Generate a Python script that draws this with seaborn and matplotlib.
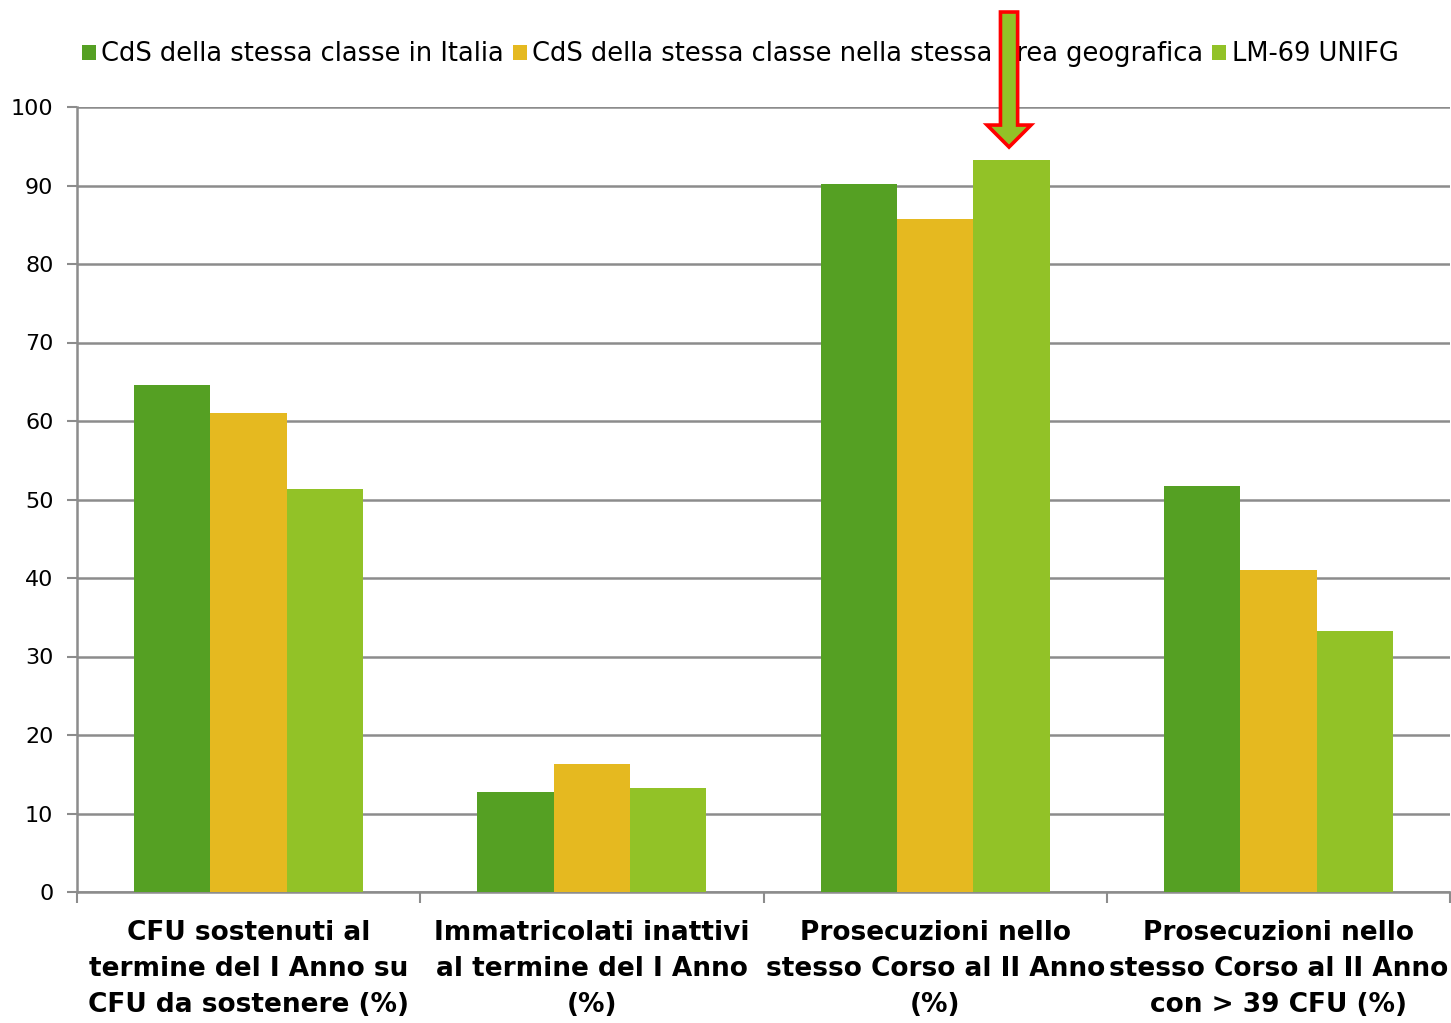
import matplotlib
matplotlib.use("Agg")
import matplotlib.pyplot as plt
from matplotlib.patches import FancyArrow
import seaborn as sns
import pandas as pd

categories = [
    "CFU sostenuti al\ntermine del I Anno su\nCFU da sostenere (%)",
    "Immatricolati inattivi\nal termine del I Anno\n(%)",
    "Prosecuzioni nello\nstesso Corso al II Anno\n(%)",
    "Prosecuzioni nello\nstesso Corso al II Anno\ncon > 39 CFU (%)",
]
series = [
    "CdS della stessa classe in Italia",
    "CdS della stessa classe nella stessa area geografica",
    "LM-69 UNIFG",
]
italia = [64.6, 12.7, 90.2, 51.7]
area = [61.0, 16.3, 85.7, 41.0]
unifg = [51.3, 13.2, 93.2, 33.2]
colors = ["#55A023", "#E5B920", "#92C227"]

rows = []
for name, vals in zip(series, [italia, area, unifg]):
    for cat, v in zip(categories, vals):
        rows.append({"categoria": cat, "serie": name, "valore": v})
df = pd.DataFrame(rows)

sns.set_theme(style="white")
plt.rcParams["font.family"] = ["DejaVu Sans"]
plt.rcParams["text.color"] = "black"

fig = plt.figure(figsize=(14.51, 10.23), dpi=100)
ax = fig.add_axes([77 / 1451, 1 - 892 / 1023, 1373 / 1451, 785 / 1023])

sns.barplot(data=df, x="categoria", y="valore", hue="serie", palette=colors,
            width=0.667, gap=0, saturation=1, ax=ax, edgecolor="none", zorder=3)

ax.set_xlim(-0.5, 3.5)
ax.set_ylim(0, 100)
ax.set_yticks(range(0, 101, 10))
ax.yaxis.grid(True, color="#8c8c8c", lw=1.8, zorder=0)
ax.set_axisbelow(True)
ax.set_xlabel("")
ax.set_ylabel("")

for s in ["top", "right"]:
    ax.spines[s].set_visible(False)
for s in ["left", "bottom"]:
    ax.spines[s].set_color("#8c8c8c")
    ax.spines[s].set_linewidth(1.8)

ax.tick_params(axis="y", left=True, length=7, width=1.5, color="#8c8c8c",
               labelsize=16, pad=10, labelcolor="black")
ax.set_xticks(range(len(categories)))
ax.set_xticklabels(categories, fontsize=19, fontweight="bold", linespacing=1.5,
                   color="black")
ax.tick_params(axis="x", which="major", length=0, pad=20)
ax.set_xticks([i - 0.5 for i in range(len(categories) + 1)], minor=True)
ax.tick_params(axis="x", which="minor", bottom=True, length=8, width=1.5,
               color="#8c8c8c")

handles, labels = ax.get_legend_handles_labels()
leg = ax.legend(handles, labels, loc="center", bbox_to_anchor=(0.483, 1.067),
                ncol=3, frameon=False, fontsize=18.5, handlelength=0.55,
                handleheight=0.55, handletextpad=0.2, columnspacing=0.35,
                borderaxespad=0, labelcolor="black")
leg.set_zorder(5)

# freccia rossa sopra la barra LM-69 delle prosecuzioni
target = ax.containers[2][2]
cx = target.get_x() + target.get_width() / 2
top = target.get_height()
arrow = FancyArrow(cx - 0.007, top + 18.9, 0, -17.2, width=0.05, head_width=0.128,
                   head_length=2.8, length_includes_head=True,
                   facecolor=colors[2], edgecolor="#ff0000", lw=2.6,
                   clip_on=False, zorder=10)
ax.add_patch(arrow)

fig.savefig("out.png", dpi=100)
